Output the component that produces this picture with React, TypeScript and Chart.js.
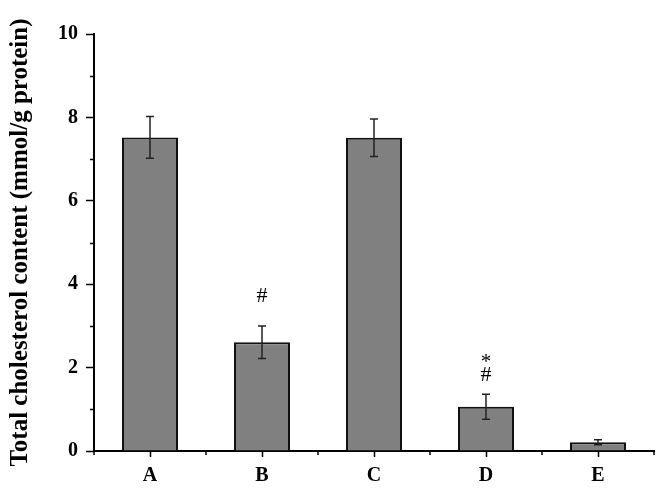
import React, { useEffect, useRef } from "react";
import { Chart, registerables } from "chart.js";

Chart.register(...registerables);

const categories = ["A", "B", "C", "D", "E"];
const means = [7.52, 2.61, 7.51, 1.06, 0.21];
const errors = [0.5, 0.39, 0.45, 0.3, 0.06];
const hashMarkY = [null, 3.7, null, 1.82, null];
const starMarkY = [null, null, null, 2.22, null];
const yTitle = "Total cholesterol content (mmol/g protein)";

const SERIF = "'Liberation Serif', 'Times New Roman', serif";

const extrasPlugin = {
  id: "extras",
  afterDatasetsDraw(chart: any) {
    const ctx = chart.ctx;
    const x = chart.scales.x;
    const y = chart.scales.y;
    ctx.save();
    // error bars
    ctx.strokeStyle = "#222";
    ctx.lineWidth = 1.5;
    means.forEach((m, i) => {
      const cx = x.getPixelForValue(i);
      const top = y.getPixelForValue(m + errors[i]);
      const bot = y.getPixelForValue(m - errors[i]);
      ctx.beginPath();
      ctx.moveTo(cx, top);
      ctx.lineTo(cx, bot);
      ctx.moveTo(cx - 4, top);
      ctx.lineTo(cx + 4, top);
      ctx.moveTo(cx - 4, bot);
      ctx.lineTo(cx + 4, bot);
      ctx.stroke();
    });
    // annotations
    ctx.fillStyle = "#000";
    ctx.textAlign = "center";
    ctx.textBaseline = "middle";
    hashMarkY.forEach((v, i) => {
      if (v == null) return;
      ctx.font = `22px ${SERIF}`;
      ctx.fillText("#", x.getPixelForValue(i), y.getPixelForValue(v));
    });
    starMarkY.forEach((v, i) => {
      if (v == null) return;
      ctx.font = `21px ${SERIF}`;
      ctx.fillText("*", x.getPixelForValue(i), y.getPixelForValue(v) + 4);
    });
    // minor ticks
    ctx.strokeStyle = "#000";
    ctx.lineWidth = 1.5;
    for (let v = 1; v < 10; v += 2) {
      const py = Math.round(y.getPixelForValue(v)) + 0.5;
      ctx.beginPath();
      ctx.moveTo(y.right - 4, py);
      ctx.lineTo(y.right, py);
      ctx.stroke();
    }
    const step = x.width / categories.length;
    for (let i = 0; i <= categories.length; i++) {
      const px = Math.round(x.left + i * step);
      ctx.beginPath();
      ctx.moveTo(px, x.top);
      ctx.lineTo(px, x.top + 4);
      ctx.stroke();
    }
    ctx.restore();
  },
};

export default function App() {
  const ref = useRef<HTMLCanvasElement | null>(null);
  useEffect(() => {
    document.body.style.margin = "0";
    const chart = new Chart(ref.current as HTMLCanvasElement, {
      type: "bar",
      data: {
        labels: categories,
        datasets: [
          {
            data: means,
            backgroundColor: "#808080",
            borderColor: "#111",
            borderWidth: 2,
            barPercentage: 0.5,
            categoryPercentage: 1,
          },
        ],
      },
      options: {
        animation: false,
        responsive: false,
        maintainAspectRatio: false,
        layout: { padding: { top: 34, right: 8, left: 0, bottom: 0 } },
        plugins: { legend: { display: false }, tooltip: { enabled: false } },
        scales: {
          x: {
            afterFit: (s: any) => {
              s.height = 39;
            },
            grid: {
              offset: false,
              drawOnChartArea: false,
              drawTicks: true,
              tickLength: 6,
              tickColor: "#000",
              tickWidth: 1.5,
            },
            border: { display: true, color: "#000", width: 2 },
            ticks: {
              color: "#000",
              padding: 7,
              font: { family: SERIF, size: 20, weight: "bold" },
            },
          },
          y: {
            min: 0,
            max: 10,
            afterFit: (s: any) => {
              s.width = 94;
            },
            grid: {
              drawOnChartArea: false,
              drawTicks: true,
              tickLength: 8,
              tickColor: "#000",
              tickWidth: 1.5,
            },
            border: { display: true, color: "#000", width: 2 },
            ticks: {
              stepSize: 2,
              color: "#000",
              padding: 8,
              font: { family: SERIF, size: 20, weight: "bold" },
            },
            title: {
              display: true,
              text: yTitle,
              color: "#000",
              padding: { top: 6, bottom: 0 },
              font: { family: SERIF, size: 25, weight: "bold" },
            },
          },
        },
      },
      plugins: [extrasPlugin],
    } as any);
    return () => chart.destroy();
  }, []);
  return (
    <div style={{ position: "fixed", left: 0, top: 0, width: 662, height: 490, background: "#fff" }}>
      <canvas ref={ref} width={662} height={490} style={{ width: 662, height: 490 }} />
    </div>
  );
}
